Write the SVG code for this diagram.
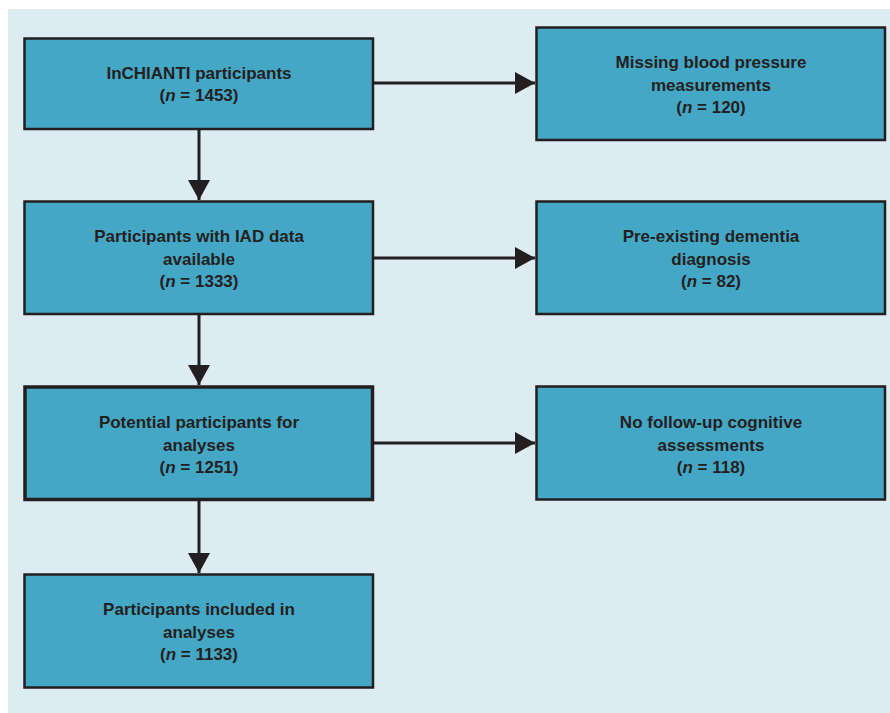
<svg xmlns="http://www.w3.org/2000/svg" width="890" height="713" viewBox="0 0 890 713">
<style>
.bg{fill:#ddebf2}
.box{fill:#44a7c5;stroke:#231f20;stroke-width:2.5}
.thick{stroke-width:3.5}
.t{font-family:"Liberation Sans",Arial,sans-serif;font-weight:bold;font-size:17px;fill:#231f20;text-anchor:middle}
.i{font-style:italic}
.c{stroke:#231f20;stroke-width:3;fill:none}
</style>
<defs>
<marker id="ah" markerUnits="userSpaceOnUse" markerWidth="22" markerHeight="22" refX="20" refY="11" orient="auto">
<path d="M0,0 L20,11 L0,22 Z" fill="#231f20"/>
</marker>
</defs>
<rect class="bg" x="8" y="9" width="882" height="704"/>
<g id="connectors">
<line class="c" x1="199" y1="130" x2="199" y2="200" marker-end="url(#ah)"/>
<line class="c" x1="199" y1="315" x2="199" y2="385" marker-end="url(#ah)"/>
<line class="c" x1="199" y1="501" x2="199" y2="573" marker-end="url(#ah)"/>
<line class="c" x1="374" y1="83" x2="535" y2="83" marker-end="url(#ah)"/>
<line class="c" x1="374" y1="258" x2="535" y2="258" marker-end="url(#ah)"/>
<line class="c" x1="374" y1="443" x2="535" y2="443" marker-end="url(#ah)"/>
</g>
<g id="n1">
<rect class="box" x="24.5" y="38.5" width="348.5" height="90.5"/>
<text class="t" x="199" y="79">InCHIANTI participants</text>
<text class="t" x="199" y="101">(<tspan class="i">n</tspan> = 1453)</text>
</g>
<g id="n2">
<rect class="box" x="536.5" y="27.5" width="348.5" height="112.5"/>
<text class="t" x="711" y="68">Missing blood pressure</text>
<text class="t" x="711" y="90.5">measurements</text>
<text class="t" x="711" y="113">(<tspan class="i">n</tspan> = 120)</text>
</g>
<g id="n3">
<rect class="box" x="24.5" y="201.5" width="348.5" height="112.5"/>
<text class="t" x="199" y="242">Participants with IAD data</text>
<text class="t" x="199" y="264.5">available</text>
<text class="t" x="199" y="287">(<tspan class="i">n</tspan> = 1333)</text>
</g>
<g id="n4">
<rect class="box" x="536.5" y="201.5" width="348.5" height="112.5"/>
<text class="t" x="711" y="242">Pre-existing dementia</text>
<text class="t" x="711" y="264.5">diagnosis</text>
<text class="t" x="711" y="287">(<tspan class="i">n</tspan> = 82)</text>
</g>
<g id="n5">
<rect class="box thick" x="25" y="387" width="347.5" height="112.5"/>
<text class="t" x="199" y="428">Potential participants for</text>
<text class="t" x="199" y="450.5">analyses</text>
<text class="t" x="199" y="473">(<tspan class="i">n</tspan> = 1251)</text>
</g>
<g id="n6">
<rect class="box" x="536.5" y="386.5" width="348.5" height="113"/>
<text class="t" x="711" y="428">No follow-up cognitive</text>
<text class="t" x="711" y="450.5">assessments</text>
<text class="t" x="711" y="473">(<tspan class="i">n</tspan> = 118)</text>
</g>
<g id="n7">
<rect class="box" x="24.5" y="574.5" width="348.5" height="113"/>
<text class="t" x="199" y="615">Participants included in</text>
<text class="t" x="199" y="637.5">analyses</text>
<text class="t" x="199" y="660">(<tspan class="i">n</tspan> = 1133)</text>
</g>
</svg>
